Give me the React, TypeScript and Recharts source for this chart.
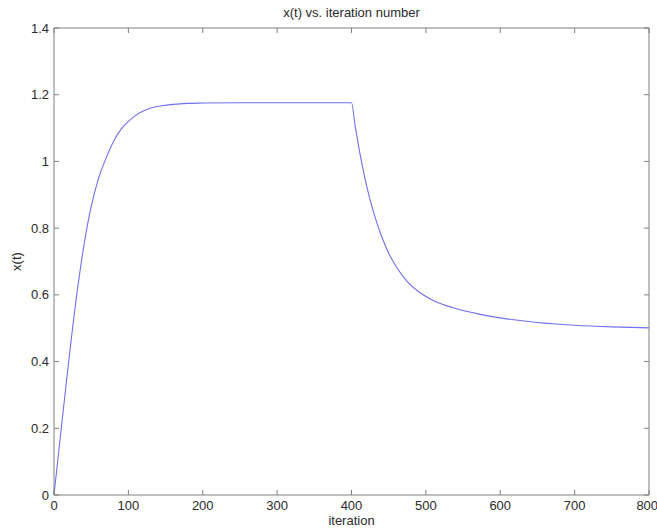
import React from "react";
import { LineChart, Line, XAxis, YAxis } from "recharts";

// iteration numbers and x(t) values
const iterations = [
  0, 10, 20, 30, 40, 50, 60, 70, 80, 90, 100, 110, 120, 130, 145, 160, 180,
  200, 250, 300, 350, 400, 405, 410, 415, 420, 430, 440, 450, 460, 475, 490,
  510, 540, 570, 600, 650, 700, 750, 800,
];
const xValues = [
  0, 0.205, 0.405, 0.59, 0.745, 0.865, 0.95, 1.01, 1.06, 1.096, 1.12, 1.138,
  1.151, 1.16, 1.167, 1.171, 1.174, 1.175, 1.176, 1.176, 1.176, 1.176, 1.105,
  1.04, 0.982, 0.93, 0.845, 0.778, 0.725, 0.685, 0.64, 0.61, 0.583, 0.559,
  0.543, 0.531, 0.517, 0.509, 0.504, 0.501,
];
const xTicks = [0, 100, 200, 300, 400, 500, 600, 700, 800];
const yTicks = [0, 0.2, 0.4, 0.6, 0.8, 1, 1.2, 1.4];

const data = iterations.map((it, i) => ({ it, x: xValues[i] }));

const FONT = "'Liberation Sans', Arial, sans-serif";
const AXIS = "#808080";
const TEXT = "#2a2a2a";

// frame axes keep their tick marks but show no labels
const noLabel = () => <g />;

export default function App() {
  return (
    <div style={{ position: "absolute", left: 0, top: 0 }}>
      <LineChart
        width={657}
        height={529}
        data={data}
        margin={{ top: 27, right: 7, bottom: 0, left: 0 }}
        style={{ fontFamily: FONT }}
      >
        <XAxis
          dataKey="it"
          type="number"
          domain={[0, 800]}
          ticks={xTicks}
          height={34}
          stroke={AXIS}
          tickSize={-5}
          tickMargin={11}
          tick={{ fill: TEXT, fontSize: 13 }}
          label={{
            content: ({ viewBox }: any) => (
              <text
                x={viewBox.x + viewBox.width / 2}
                y={525}
                textAnchor="middle"
                fontSize={13}
                fill={TEXT}
              >
                iteration
              </text>
            ),
          }}
        />
        <XAxis
          xAxisId="top"
          dataKey="it"
          orientation="top"
          type="number"
          domain={[0, 800]}
          ticks={xTicks}
          height={1}
          stroke={AXIS}
          tickSize={-5}
          tick={noLabel}
          label={{
            content: ({ viewBox }: any) => (
              <text
                x={viewBox.x + viewBox.width / 2}
                y={17}
                textAnchor="middle"
                fontSize={13}
                fill={TEXT}
              >
                x(t) vs. iteration number
              </text>
            ),
          }}
        />
        <YAxis
          type="number"
          domain={[0, 1.4]}
          ticks={yTicks}
          width={54}
          stroke={AXIS}
          tickSize={-5}
          tickMargin={10}
          tick={{ fill: TEXT, fontSize: 13 }}
          label={{
            content: ({ viewBox }: any) => {
              const cy = viewBox.y + viewBox.height / 2;
              return (
                <text
                  x={16}
                  y={cy}
                  transform={`rotate(-90 16 ${cy})`}
                  textAnchor="middle"
                  dominantBaseline="central"
                  fontSize={13}
                  fill={TEXT}
                >
                  x(t)
                </text>
              );
            },
          }}
        />
        <YAxis
          yAxisId="right"
          orientation="right"
          type="number"
          domain={[0, 1.4]}
          ticks={yTicks}
          width={1}
          stroke={AXIS}
          tickSize={-5}
          tick={noLabel}
        />
        {/* invisible copy so the top/right frame axes get drawn */}
        <Line
          xAxisId="top"
          yAxisId="right"
          dataKey="x"
          stroke="none"
          dot={false}
          isAnimationActive={false}
        />
        <Line
          type="monotone"
          dataKey="x"
          stroke="#7070ee"
          strokeWidth={1.1}
          dot={false}
          isAnimationActive={false}
        />
      </LineChart>
    </div>
  );
}
